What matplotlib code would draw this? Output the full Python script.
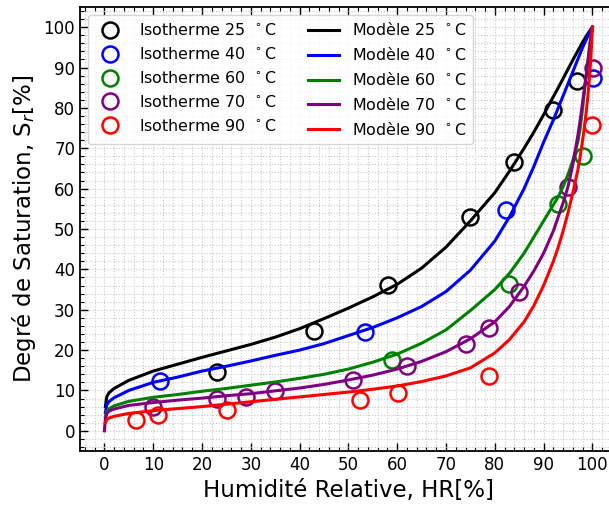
import numpy as np
import matplotlib
matplotlib.use("Agg")
import matplotlib.pyplot as plt
from matplotlib.ticker import MultipleLocator

# experimental isotherms (HR %, Sr %)
temps = [25, 40, 60, 70, 90]
colors = ['k', 'b', 'g', 'purple', 'r']

hr_25 = [23.1, 43.0, 58.1, 75.0, 84.0, 91.9, 96.9]
sr_25 = [14.6, 24.7, 36.2, 52.9, 66.7, 79.5, 86.7]
hr_40 = [11.3, 53.3, 82.2, 100.1]
sr_40 = [12.4, 24.5, 54.8, 87.5]
hr_60 = [59.0, 83.0, 92.9, 98.0]
sr_60 = [17.6, 36.4, 56.2, 68.1]
hr_70 = [9.9, 23.0, 29.0, 35.0, 50.9, 62.0, 74.0, 78.9, 85.0, 95.0, 100.1]
sr_70 = [5.9, 8.0, 8.4, 9.8, 12.7, 16.0, 21.6, 25.5, 34.5, 60.5, 89.8]
hr_90 = [6.5, 10.9, 25.1, 52.4, 60.1, 78.8, 99.9]
sr_90 = [2.6, 4.0, 5.1, 7.6, 9.4, 13.5, 75.8]

# model curves
hr_m = [0.2, 0.5, 1, 2, 5, 10, 15, 20, 25, 30, 35, 40, 45, 50, 55, 60, 65,
        70, 75, 80, 83, 86, 88, 90, 92, 93, 94, 95, 96, 97, 97.5, 98, 98.5,
        99, 99.3, 99.6, 99.8, 100]
mod_25 = [6.0, 8.5, 9.5, 10.5, 12.5, 14.8, 16.5, 18.2, 19.8, 21.4, 23.2, 25.3,
          27.8, 30.4, 33.2, 36.3, 40.3, 45.5, 52.0, 59.0, 64.3, 70.0, 74.0,
          78.3, 82.8, 85.0, 87.3, 89.6, 91.9, 94.1, 95.2, 96.3, 97.3, 98.3,
          98.8, 99.3, 99.7, 100]
mod_40 = [4.5, 6.5, 7.3, 8.2, 10.0, 12.0, 13.3, 14.8, 16.0, 17.3, 18.7, 20.0,
          21.6, 23.6, 25.6, 28.0, 30.8, 34.5, 39.8, 47.0, 53.0, 60.0, 65.5,
          71.5, 77.0, 80.0, 83.0, 86.0, 89.0, 92.0, 93.5, 95.0, 96.3, 97.6,
          98.4, 99.2, 99.6, 100]
mod_60 = [3.5, 4.8, 5.5, 6.2, 7.3, 8.3, 9.0, 9.8, 10.5, 11.3, 12.1, 13.0,
          14.0, 15.3, 17.0, 19.0, 21.7, 25.0, 29.8, 35.0, 39.0, 44.0, 48.0,
          52.0, 56.0, 58.0, 60.5, 63.5, 67.0, 71.5, 75.0, 80.0, 85.5, 91.0,
          94.0, 97.0, 98.7, 100]
mod_70 = [3.0, 4.3, 4.9, 5.4, 6.3, 7.0, 7.6, 8.1, 8.7, 9.2, 9.9, 10.6, 11.5,
          12.6, 13.8, 15.3, 17.2, 19.6, 22.8, 27.0, 30.8, 35.8, 39.6, 44.0,
          49.5, 53.0, 56.5, 60.5, 66.0, 73.0, 77.0, 81.5, 86.0, 90.5, 93.5,
          96.5, 98.3, 100]
mod_90 = [2.0, 2.8, 3.2, 3.6, 4.3, 5.0, 5.5, 6.0, 6.6, 7.2, 7.8, 8.4, 9.0,
          9.6, 10.3, 11.1, 12.2, 13.6, 15.6, 19.3, 22.6, 27.0, 31.0, 36.0,
          42.0, 45.5, 49.5, 54.0, 59.0, 64.5, 68.0, 72.0, 76.5, 82.0, 86.0,
          91.0, 95.0, 100]

hr_exp = [hr_25, hr_40, hr_60, hr_70, hr_90]
sr_exp = [sr_25, sr_40, sr_60, sr_70, sr_90]
mods = [mod_25, mod_40, mod_60, mod_70, mod_90]

fig = plt.figure(figsize=(6.09, 5.05), dpi=100)
ax = fig.add_axes([80/609, 54/505, 536.8/609, 444/505])

for T, c, x, y in zip(temps, colors, hr_exp, sr_exp):
    ax.plot(x, y, 'o', ms=11.5, mfc='none', mec=c, mew=1.8,
            label='Isotherme %d $\\,^\\circ$C' % T, zorder=2)

for T, c, m in zip(temps, colors, mods):
    xs = hr_m
    ys = m
    if c == 'purple':
        xs = [0] + hr_m
        ys = [0] + m
    ax.plot(xs, ys, '-', color=c, lw=2.2, label='Modèle %d $\\,^\\circ$C' % T, zorder=3)

ax.set_xlim(-5, 105)
ax.set_ylim(-5, 105)
ax.xaxis.set_major_locator(MultipleLocator(10))
ax.yaxis.set_major_locator(MultipleLocator(10))
ax.xaxis.set_minor_locator(MultipleLocator(2))
ax.yaxis.set_minor_locator(MultipleLocator(2))
ax.tick_params(which='both', direction='in', top=True, right=True, labelsize=12)
ax.tick_params(which='major', length=6, width=1)
ax.tick_params(which='minor', length=3, width=0.8)
ax.grid(which='both', linestyle=':', color='#c8c8c8', lw=0.8)
ax.set_axisbelow(True)
for s in ax.spines.values():
    s.set_linewidth(1.3)

ax.set_xlabel('Humidité Relative, HR[%]', fontsize=16.5)
ax.set_ylabel('Degré de Saturation, S$_r$[%]', fontsize=16.5)
ax.legend(loc='upper left', ncol=2, fontsize=11.4)

fig.savefig('out.png', dpi=100)
